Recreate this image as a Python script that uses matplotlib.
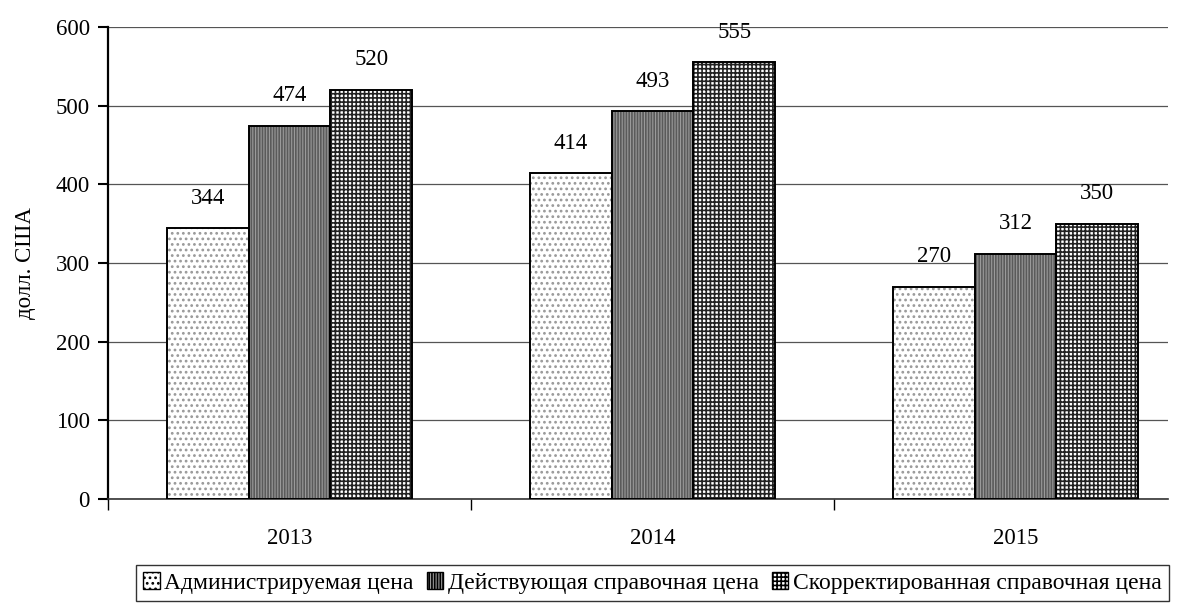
import matplotlib.pyplot as plt
import numpy as np

years = ["2013", "2014", "2015"]
admin_price = [344, 414, 270]
ref_price = [474, 493, 312]
adj_ref_price = [520, 555, 350]
labels = ["Администрируемая цена", "Действующая справочная цена",
          "Скорректированная справочная цена"]

plt.rcParams['font.family'] = ['Liberation Serif', 'DejaVu Serif']
plt.rcParams['hatch.linewidth'] = 1.2

fig = plt.figure(figsize=(11.85, 6.10), dpi=100)
ax = fig.add_axes([0.0911, 0.182, 0.8946, 0.7737])

x = np.arange(len(years))
w = 0.225
styles = [
    dict(facecolor='white', hatch='...', edgecolor='#999999'),
    dict(facecolor='#9a9a9a', hatch='||||||', edgecolor='#5a5a5a'),
    dict(facecolor='white', hatch='++++', edgecolor='#222222'),
]
series = [admin_price, ref_price, adj_ref_price]
handles = []
for i, (vals, st) in enumerate(zip(series, styles)):
    pos = x + (i - 1) * w
    bars = ax.bar(pos, vals, w, linewidth=0, **st, zorder=2)
    # black outline on top of hatch
    ax.bar(pos, vals, w, facecolor='none', edgecolor='black',
           linewidth=1.4, zorder=3)
    handles.append(bars)
    for xi, v in zip(pos, vals):
        ax.text(xi, v + 25, str(v), ha='center', va='bottom', fontsize=16.5)

ax.set_xlim(-0.5, 2.42)
ax.set_ylim(0, 600)
ax.set_yticks(range(0, 601, 100))
ax.yaxis.grid(True, color='#555555', linewidth=0.9, zorder=0)
ax.set_axisbelow(True)

ax.set_xticks(x)
ax.set_xticklabels(years)
ax.tick_params(axis='x', which='major', length=0, pad=21, labelsize=16.5)
ax.set_xticks([-0.5, 0.5, 1.5], minor=True)
ax.tick_params(axis='x', which='minor', length=8, width=1, direction='out')
ax.tick_params(axis='y', length=7, width=1.5, labelsize=16.5, direction='out', pad=6)

for s in ['top', 'right']:
    ax.spines[s].set_visible(False)
ax.spines['left'].set_linewidth(1.6)
ax.spines['bottom'].set_linewidth(1.2)
ax.spines['bottom'].set_color('#333333')

ax.set_ylabel("долл. США", fontsize=16.5, labelpad=14)

leg = fig.legend(handles, labels, loc='center', bbox_to_anchor=(0.5506, 0.044),
                 ncol=3, fontsize=17, frameon=True, fancybox=False,
                 edgecolor='black', handlelength=0.7, handleheight=0.7,
                 handletextpad=0.2, columnspacing=0.55, borderpad=0.3)
leg.get_frame().set_linewidth(1.0)
for h in leg.legend_handles:
    h.set_edgecolor('black')
    h.set_linewidth(1.0)

fig.savefig("out.png", dpi=100)
